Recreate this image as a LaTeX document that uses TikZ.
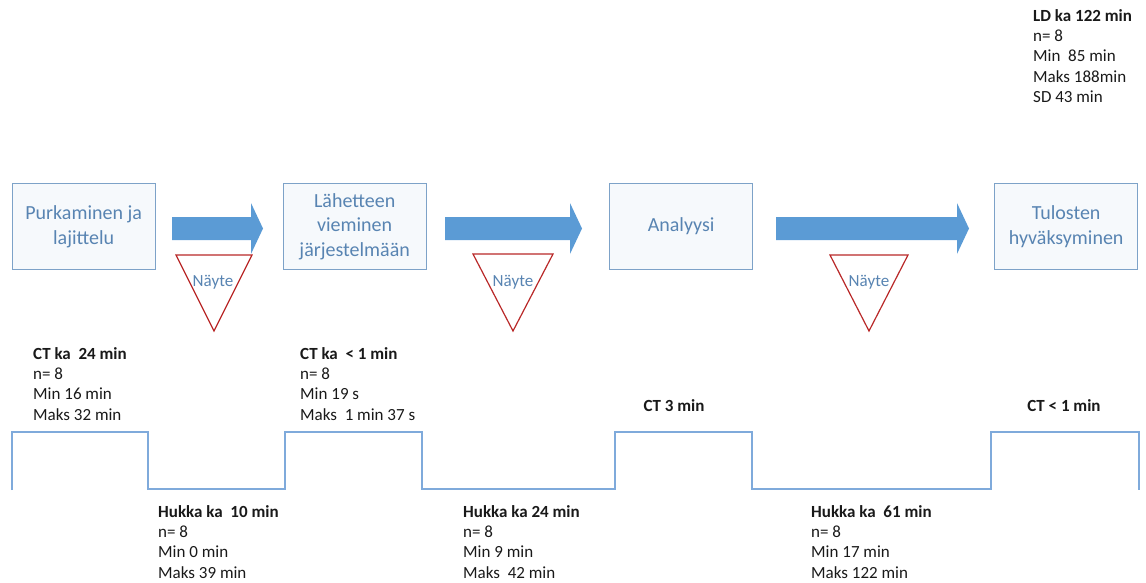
\documentclass[tikz,border=0pt]{standalone}
\usepackage{fontspec}
\setmainfont{Carlito}
\definecolor{boxblue}{RGB}{125,162,200}
\definecolor{boxfill}{RGB}{246,249,252}
\definecolor{txtblue}{RGB}{88,132,178}
\definecolor{arrowblue}{RGB}{91,155,213}
\definecolor{trired}{RGB}{185,40,40}
\definecolor{stepblue}{RGB}{127,170,219}
\definecolor{datatext}{RGB}{25,25,25}
\begin{document}
\begin{tikzpicture}[x=1pt,y=-1pt,
  procbox/.style={draw=boxblue, line width=1.3pt, fill=boxfill, minimum width=143pt, minimum height=86pt, inner sep=0pt, anchor=north west, align=center, text=txtblue, font=\fontsize{20}{24.5}\selectfont},
  data/.style={anchor=north west, align=left, inner sep=0pt, font=\fontsize{17}{20.3}\selectfont, text=datatext},
  flowarrow/.style={fill=arrowblue, draw=none},
  sample/.style={draw=trired, line width=1.2pt, fill=white},
  samplelbl/.style={text=txtblue, font=\fontsize{17}{20}\selectfont, inner sep=0pt},
  wave/.style={draw=stepblue, line width=2pt}]
\useasboundingbox (0,0) rectangle (1146,583);

% process boxes
\node[procbox] (b1) at (11.5,183) {Purkaminen ja\\lajittelu};
\node[procbox] (b2) at (282.5,183) {Lähetteen\\vieminen\\järjestelmään};
\node[procbox] (b3) at (609,183) {Analyysi};
\node[procbox] (b4) at (994,183) {Tulosten\\hyväksyminen};

% block arrows
\fill[flowarrow] (172,217) -- (251,217) -- (251,203) -- (263,228.5) -- (251,254) -- (251,240) -- (172,240) -- cycle;
\fill[flowarrow] (445,217) -- (570,217) -- (570,203) -- (582,228.5) -- (570,254) -- (570,240) -- (445,240) -- cycle;
\fill[flowarrow] (776,217) -- (957,217) -- (957,203) -- (969,228.5) -- (957,254) -- (957,240) -- (776,240) -- cycle;

% sample triangles
\draw[sample] (176,255) -- (252,255) -- (214,331) -- cycle;
\node[samplelbl] (n1) at (213,282) {Näyte};
\draw[sample] (473,254) -- (553,254) -- (513,331) -- cycle;
\node[samplelbl] (n2) at (513,282) {Näyte};
\draw[sample] (830,255) -- (908,255) -- (869,331) -- cycle;
\node[samplelbl] (n3) at (869,282) {Näyte};

% step line
\draw[wave] (12,490) -- (12,432) -- (148,432) -- (148,489) -- (285,489) -- (285,432) -- (422,432) -- (422,489) -- (615,489) -- (615,432) -- (752,432) -- (752,489) -- (991,489) -- (991,432) -- (1139,432) -- (1139,490);

% data texts
\node[data] (ld) at (1033,9) {\textbf{LD ka 122 min}\\n= 8\\Min\ \ 85 min\\Maks 188min\\SD 43 min};
\node[data] (ct1) at (33,347) {\textbf{CT ka\ \ 24 min}\\n= 8\\Min 16 min\\Maks 32 min};
\node[data] (ct2) at (300,347) {\textbf{CT ka\ \ < 1 min}\\n= 8\\Min 19 s\\Maks\ \ 1 min 37 s};
\node[data, anchor=north] (ct3) at (674,399) {\textbf{CT 3 min}};
\node[data, anchor=north] (ct4) at (1064,399) {\textbf{CT < 1 min}};
\node[data] (h1) at (158,505) {\textbf{Hukka ka\ \ 10 min}\\n= 8\\Min 0 min\\Maks 39 min};
\node[data] (h2) at (463,505) {\textbf{Hukka ka 24 min}\\n= 8\\Min 9 min\\Maks\ \ 42 min};
\node[data] (h3) at (811,505) {\textbf{Hukka ka\ \ 61 min}\\n= 8\\Min 17 min\\Maks 122 min};
\end{tikzpicture}
\end{document}
